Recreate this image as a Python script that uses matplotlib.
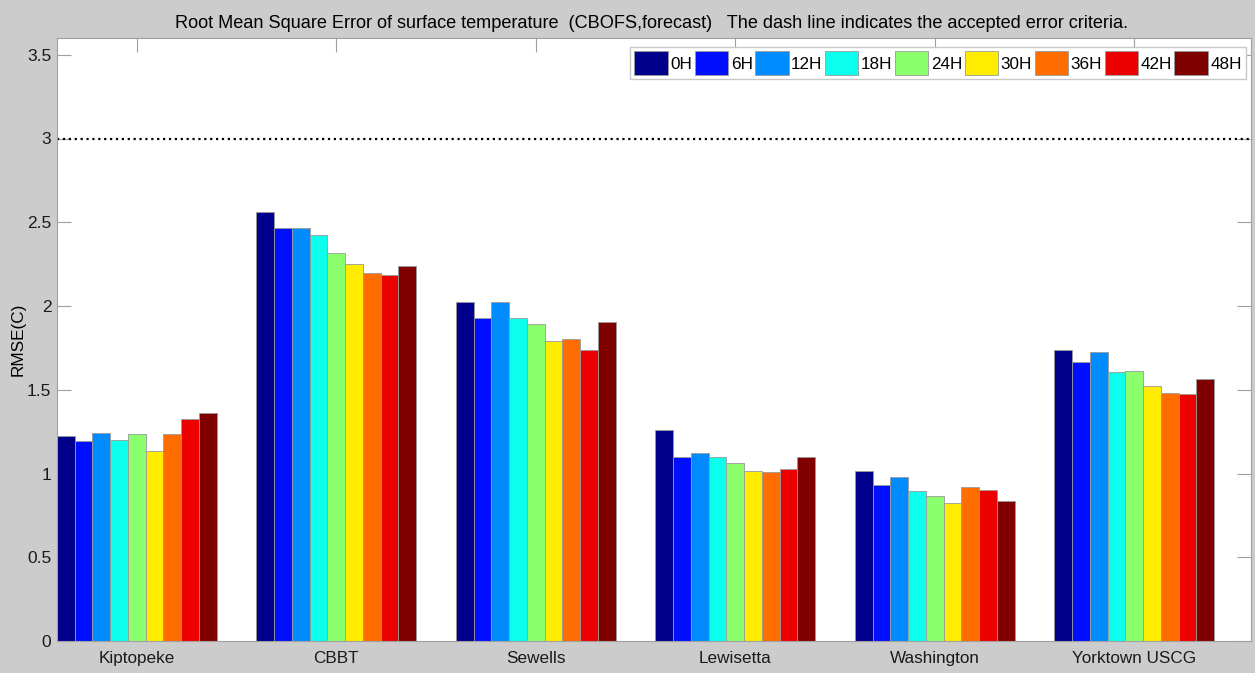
import numpy as np
import matplotlib
matplotlib.use('Agg')
import matplotlib.pyplot as plt

# station names and forecast hours
stations = ['Kiptopeke', 'CBBT', 'Sewells', 'Lewisetta', 'Washington', 'Yorktown USCG']
hours = ['0H', '6H', '12H', '18H', '24H', '30H', '36H', '42H', '48H']

# RMSE per station, one value per forecast hour
kiptopeke = [1.225, 1.193, 1.241, 1.199, 1.237, 1.133, 1.233, 1.328, 1.360]
cbbt = [2.561, 2.463, 2.463, 2.421, 2.316, 2.250, 2.197, 2.188, 2.240]
sewells = [2.021, 1.931, 2.023, 1.931, 1.894, 1.790, 1.802, 1.740, 1.902]
lewisetta = [1.259, 1.101, 1.123, 1.097, 1.061, 1.014, 1.006, 1.027, 1.097]
washington = [1.017, 0.934, 0.980, 0.896, 0.866, 0.823, 0.920, 0.904, 0.838]
yorktown = [1.737, 1.667, 1.728, 1.607, 1.609, 1.525, 1.481, 1.477, 1.567]
criteria = 3.0

colors = ['#00008c', '#0010ff', '#008cff', '#0cffec', '#8cff6c',
          '#ffec00', '#ff6c00', '#ec0000', '#800000']

rmse = np.array([kiptopeke, cbbt, sewells, lewisetta, washington, yorktown])

plt.rcParams['font.family'] = ['Liberation Sans', 'DejaVu Sans']

fig = plt.figure(figsize=(12.55, 6.73), dpi=100, facecolor='#cccccc')
ax = fig.add_axes([57/1255, 32/673, 1194/1255, 603/673])
ax.set_axisbelow(True)

x = np.arange(1, len(stations) + 1)
nb = len(hours)
w = 0.8 / nb
for j in range(nb):
    ax.bar(x - 0.4 + w*(j + 0.5), rmse[:, j], width=w, color=colors[j],
           edgecolor='#9a9a9a', linewidth=0.6, label=hours[j])

ax.axhline(criteria, color='black', linestyle=':', linewidth=1.6)

ax.set_xlim(0.6, 6.585)
ax.set_ylim(0, 3.6)
ax.set_xticks(x)
ax.set_xticklabels(stations, fontsize=12.3)
ax.set_yticks(np.arange(0, 3.51, 0.5))
ax.set_yticklabels(['0', '0.5', '1', '1.5', '2', '2.5', '3', '3.5'], fontsize=12.5)
ax.tick_params(direction='in', length=10, color='#a0a0a0', top=True, right=True,
               labelcolor='#1a1a1a')
ax.tick_params(axis='x', pad=7)
ax.tick_params(axis='y', pad=4)
for s in ax.spines.values():
    s.set_color('#a0a0a0')

ax.set_ylabel('RMSE(C)', fontsize=12.3)
ax.yaxis.set_label_coords(-0.0265, 0.5)
ax.set_title('Root Mean Square Error of surface temperature  (CBOFS,forecast)   '
             'The dash line indicates the accepted error criteria.',
             fontsize=13.1, pad=7, x=0.498)

leg = ax.legend(ncol=nb, loc='upper right', bbox_to_anchor=(0.9958, 0.985),
                borderaxespad=0, fontsize=12.3, handlelength=1.95,
                handleheight=1.75, handletextpad=0.15, columnspacing=0.15,
                borderpad=0.25, fancybox=False, framealpha=1,
                edgecolor='#c8c8c8')

plt.savefig('out.png', dpi=100, facecolor=fig.get_facecolor())
